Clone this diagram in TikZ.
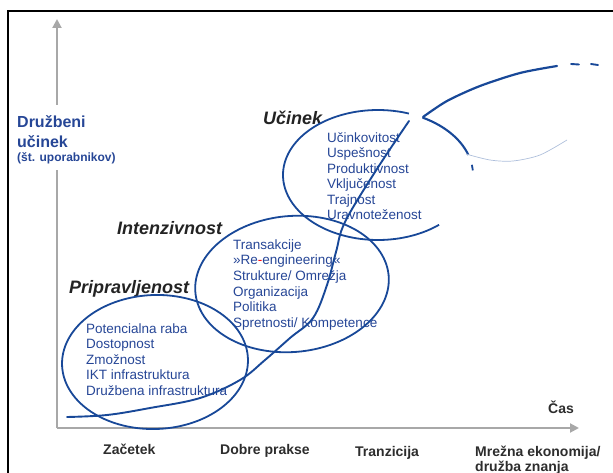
\documentclass[tikz,border=0pt]{standalone}
\usepackage{fontspec}
\setmainfont{Liberation Sans}
\usetikzlibrary{arrows.meta}
\definecolor{lineblue}{RGB}{24,72,152}
\definecolor{txtblue}{RGB}{38,70,150}
\definecolor{headgray}{RGB}{35,35,35}
\definecolor{stagegray}{RGB}{45,45,45}
\definecolor{axisgray}{RGB}{168,168,168}
\begin{document}
\begin{tikzpicture}[x=1pt,y=-1pt,
  ell/.style={draw=lineblue, line width=1.8pt},
  sline/.style={draw=lineblue, line width=1.9pt, line cap=round},
  item/.style={text=txtblue, font=\fontsize{13.5}{16}\selectfont, inner sep=0pt, anchor=base west},
  ylab/.style={text=txtblue, font=\fontsize{16}{19}\selectfont\bfseries, inner sep=0pt, anchor=base west},
  ysub/.style={text=txtblue, font=\fontsize{12}{14}\selectfont\bfseries, inner sep=0pt, anchor=base west},
  head/.style={text=headgray, font=\fontsize{18}{21}\selectfont\bfseries\itshape, inner sep=0pt, anchor=base west},
  stage/.style={text=stagegray, font=\fontsize{14}{16}\selectfont\bfseries, inner sep=0pt, anchor=base west},
  axisbase/.style={draw=axisgray, line width=2pt},
  axisline/.style={axisbase, -{Triangle[length=9pt,width=9pt]}}
]
\useasboundingbox (0,0) rectangle (613,473);
\draw[black, line width=2pt] (8,11.5) rectangle (640,500);

% axes
\coordinate (O) at (57,428);
\coordinate (ygapA) at (57,170);
\coordinate (ygapB) at (57,105);
\coordinate (ytip) at (57,19);
\coordinate (xtip) at (579,428);
\draw[axisbase] (O) -- (ygapA);
\draw[axisline] (ygapB) -- (ytip);
\draw[axisline] (O) -- (xtip);

% y label
\node[ylab] (yl1) at (17,128) {Družbeni};
\node[ylab] (yl2) at (17,147.5) {učinek};
\node[ysub] (yl3) at (17,161.5) {(št. uporabnikov)};

% stage labels
\node[stage] (s1) at (103,454) {Začetek};
\node[stage] (s2) at (220,454) {Dobre prakse};
\node[stage] (s3) at (355,456) {Tranzicija};
\node[stage] (s4) at (475,456) {Mrežna ekonomija/};
\node[stage] (s4b) at (475,471.5) {družba znanja};
\node[stage] (cas) at (548,413) {Čas};

% headings
\node[head] (hU) at (263,124.5) {Učinek};
\node[head] (hI) at (117,234) {Intenzivnost};
\node[head] (hP) at (69,293) {Pripravljenost};

% Pripravljenost items
\node[item] (p1) at (86,333) {Potencialna raba};
\node[item] (p2) at (86,348.5) {Dostopnost};
\node[item] (p3) at (86,364) {Zmožnost};
\node[item] (p4) at (86,379.5) {IKT infrastruktura};
\node[item] (p5) at (86,395) {Družbena infrastruktura};

% Intenzivnost items
\node[item] (i1) at (233,249.5) {Transakcije};
\node[item] (i2) at (233,265) {»Re\textcolor{red}{-}engineering«};
\node[item] (i3) at (233,280.5) {Strukture/ Omrežja};
\node[item] (i4) at (233,296) {Organizacija};
\node[item] (i5) at (233,311.5) {Politika};
\node[item] (i6) at (233,327) {Spretnosti/ Kompetence};

% Ucinek items
\node[item] (u1) at (327,142.5) {Učinkovitost};
\node[item] (u2) at (327,158) {Uspešnost};
\node[item] (u3) at (327,173.5) {Produktivnost};
\node[item] (u4) at (327,189) {Vključenost};
\node[item] (u5) at (327,204.5) {Trajnost};
\node[item] (u6) at (327,220) {Uravnoteženost};

% ellipses
\draw[ell] plot[domain=0:360, samples=140]
  ({155+93*cos(\x)*cos(-2)-67*sin(\x)*sin(-2)},{362+93*cos(\x)*sin(-2)+67*sin(\x)*cos(-2)}) -- cycle;
\draw[ell] plot[domain=0:360, samples=140]
  ({292+97*cos(\x)*cos(-5)-68*sin(\x)*sin(-5)},{284+97*cos(\x)*sin(-5)+68*sin(\x)*cos(-5)}) -- cycle;
\draw[ell] plot[domain=50:289, samples=100] ({378+95*cos(\x)},{175+65*sin(\x)});
\draw[ell, line width=2.1pt] plot[domain=298:342, samples=30] ({378+95*cos(\x)},{175+65*sin(\x)});
\draw[ell] plot[domain=351:356, samples=5] ({378+95*cos(\x)},{175+65*sin(\x)});

% faint arc
\draw[lineblue!35, line width=0.7pt] plot[smooth] coordinates {(466,154) (490,160) (513,161) (540,155) (567,140)};

% S-curve
\draw[sline] plot[smooth, tension=0.6] coordinates {(67,417) (107,415) (150,408) (200,398) (240,380) (265,360) (290,338) (313,318) (327,285) (336,252) (345,222) (375,172) (409,121)};
\draw[sline, line width=2.2pt] plot[smooth] coordinates {(423,117) (447,101) (480,86) (520,73) (557,66)};
\coordinate (d1a) at (571,64); \coordinate (d1b) at (579,64.5);
\coordinate (d2a) at (591,64); \coordinate (d2b) at (598,65);
\draw[sline] (d1a) -- (d1b);
\draw[sline] (d2a) -- (d2b);
\end{tikzpicture}
\end{document}
